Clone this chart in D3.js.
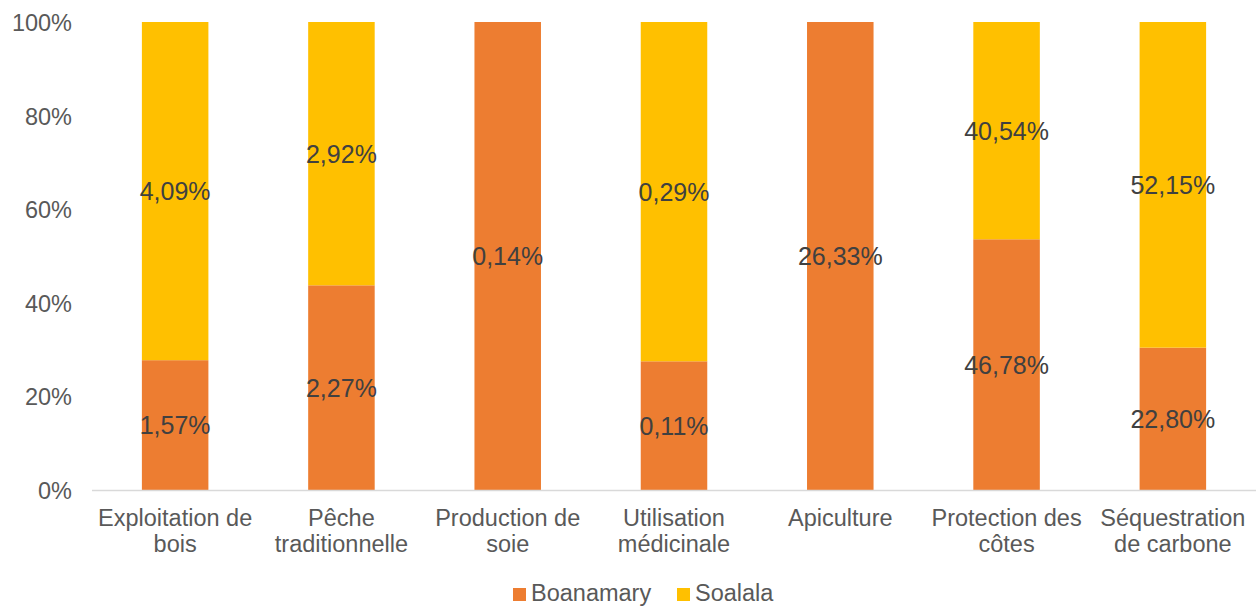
<!DOCTYPE html>
<html>
<head>
<meta charset="utf-8">
<script src="https://cdn.jsdelivr.net/npm/d3@7"></script>
<style>
  body { margin: 0; background: #fff; }
  svg { font-family: "Liberation Sans", Arial, sans-serif; }
</style>
</head>
<body>
<div id="chart"></div>
<script>
// data
var categories = ["Exploitation de bois", "Pêche traditionnelle", "Production de soie",
    "Utilisation médicinale", "Apiculture", "Protection des côtes", "Séquestration de carbone"];
var tickLines = [["Exploitation de", "bois"], ["Pêche", "traditionnelle"], ["Production de", "soie"],
    ["Utilisation", "médicinale"], ["Apiculture"], ["Protection des", "côtes"], ["Séquestration", "de carbone"]];
var boanamary = [1.57, 2.27, 0.14, 0.11, 26.33, 46.78, 22.80];
var soalala = [4.09, 2.92, 0, 0.29, 0, 40.54, 52.15];
var seriesNames = ["Boanamary", "Soalala"];
var colors = ["#ED7D31", "#FFC000"];
var yTicks = [0, 0.2, 0.4, 0.6, 0.8, 1];

var width = 1257, height = 607;
var svg = d3.select("#chart").append("svg")
    .attr("width", width)
    .attr("height", height);

var x = d3.scaleBand()
    .domain(categories)
    .range([92, 1256])
    .paddingInner(0.6)
    .paddingOuter(0.3);

var y = d3.scaleLinear()
    .domain([0, 1])
    .range([490, 22]);

// build rows for d3.stack, normalised to 100%
var rows = categories.map(function (c, i) {
    return {cat: c, Boanamary: boanamary[i], Soalala: soalala[i], raw: [boanamary[i], soalala[i]]};
});
var stack = d3.stack().keys(seriesNames).offset(d3.stackOffsetExpand);
var layers = stack(rows);

// y axis
var yAxis = svg.append("g")
    .attr("transform", "translate(72,0)")
    .call(d3.axisLeft(y).tickValues(yTicks).tickSize(0).tickPadding(0)
        .tickFormat(function (d) { return Math.round(d * 100) + "%"; }));
yAxis.select(".domain").remove();
yAxis.selectAll("text")
    .attr("fill", "#595959")
    .attr("font-size", "23.5px")
    .attr("font-family", "Liberation Sans, Arial, sans-serif")
    .attr("dy", "0.36em");

// bars
var layerG = svg.selectAll(".layer")
    .data(layers)
    .enter().append("g")
    .attr("fill", function (d, i) { return colors[i]; });

layerG.selectAll("rect")
    .data(function (d) { return d; })
    .enter().append("rect")
    .attr("x", function (d) { return x(d.data.cat); })
    .attr("y", function (d) { return y(d[1]); })
    .attr("width", x.bandwidth())
    .attr("height", function (d) { return y(d[0]) - y(d[1]); });

// x axis
var xAxis = svg.append("g")
    .attr("transform", "translate(0,490)")
    .call(d3.axisBottom(x).tickSize(0).tickFormat(""));
xAxis.select(".domain").attr("stroke", "#D9D9D9").attr("stroke-width", 1.3)
    .attr("d", "M92,0.5H1256");

xAxis.selectAll(".tick text")
    .attr("fill", "#595959")
    .attr("font-size", "23.5px")
    .attr("font-family", "Liberation Sans, Arial, sans-serif")
    .attr("y", 0)
    .attr("dy", 0)
    .each(function (d, i) {
        var t = d3.select(this);
        tickLines[i].forEach(function (line, j) {
            t.append("tspan")
                .attr("x", 0)
                .attr("y", 36 + j * 26)
                .text(line);
        });
    });

// data labels
layers.forEach(function (layer, si) {
    svg.append("g").selectAll("text")
        .data(layer.filter(function (d) { return d.data.raw[si] > 0; }))
        .enter().append("text")
        .attr("x", function (d) { return x(d.data.cat) + x.bandwidth() / 2; })
        .attr("y", function (d) { return (y(d[0]) + y(d[1])) / 2 + 9; })
        .attr("text-anchor", "middle")
        .attr("font-size", "25px")
        .attr("fill", "#404040")
        .text(function (d) { return d.data.raw[si].toFixed(2).replace(".", ",") + "%"; });
});

// legend
var legendX = [513, 677];
var legend = svg.append("g");
seriesNames.forEach(function (name, i) {
    legend.append("rect")
        .attr("x", legendX[i])
        .attr("y", 588)
        .attr("width", 13)
        .attr("height", 13)
        .attr("fill", colors[i]);
    legend.append("text")
        .attr("x", legendX[i] + 18)
        .attr("y", 601)
        .attr("font-size", "23.5px")
        .attr("fill", "#595959")
        .text(name);
});
</script>
</body>
</html>
